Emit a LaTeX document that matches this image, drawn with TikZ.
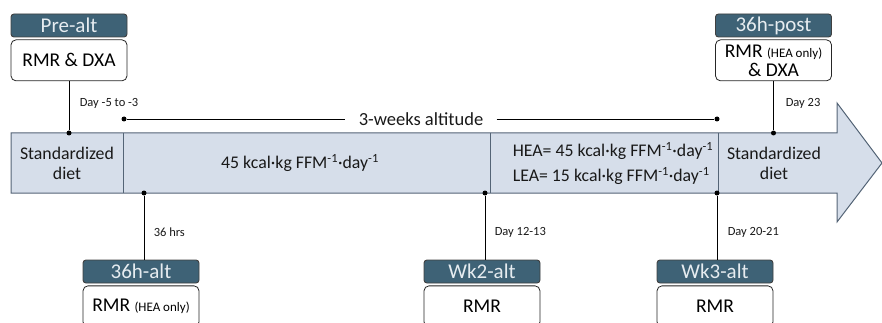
\documentclass[tikz,border=0pt]{standalone}
\usepackage{fontspec}
\setmainfont{Carlito}
\usetikzlibrary{positioning}
\definecolor{headblue}{RGB}{62,98,118}
\definecolor{headtext}{RGB}{230,236,240}
\definecolor{bandfill}{RGB}{214,222,234}
\definecolor{bandline}{RGB}{84,100,118}
\tikzset{
    head/.style={draw=black!75, fill=headblue, text=headtext, rounded corners=3pt,
        minimum width=116pt, minimum height=23pt, inner sep=0pt, font=\fontsize{21}{22}\selectfont},
    testbox/.style={draw=black!85, fill=white, rounded corners=5pt, line width=0.8pt,
        minimum width=116pt, minimum height=41pt, inner sep=0pt, align=center,
        font=\fontsize{19.5}{19}\selectfont},
    daylabel/.style={anchor=west, text=black!90, font=\fontsize{12.5}{15}\selectfont},
    dot/.style={circle, fill=black, inner sep=0pt, minimum size=5pt},
    bandtext/.style={align=center, text=black!90, font=\fontsize{17.8}{20}\selectfont},
}
\newcommand{\kcal}{kcal·kg FFM\textsuperscript{-1}·day\textsuperscript{-1}}
\begin{document}
\begin{tikzpicture}[x=1pt, y=1pt, line width=0.9pt]
    \useasboundingbox (0,0) rectangle (882,-323);
    \clip (0,0) rectangle (882,-323);
    % band arrow
    \draw[fill=bandfill, draw=bandline, line width=1pt]
        (11,-133) -- (837,-133) -- (837,-103) -- (882,-163)
        -- (837,-222) -- (837,-193) -- (11,-193) -- cycle;
    \draw[bandline, line width=1pt] (123,-133) -- (123,-193)
        (490,-133) -- (490,-193)
        (718,-133) -- (718,-193);
    \node[bandtext] (stdpre) at (67,-163) {Standardized\\diet};
    \node[bandtext] (kcalalt) at (300,-163) {45 \kcal};
    \node[bandtext, anchor=west] (hea) at (509,-151) {HEA= 45 \kcal};
    \node[bandtext, anchor=west] (lea) at (509,-176) {LEA= 15 \kcal};
    \node[bandtext] (stdpost) at (774,-163) {Standardized\\diet};
    % 3-weeks altitude
    \node[dot] (altstart) at (124,-119) {};
    \node[dot] (altend) at (717,-119) {};
    \node[bandtext, inner xsep=13pt, font=\fontsize{18.5}{20}\selectfont] (altlabel)
        at (421,-119) {3-weeks altitude};
    \draw (altstart) -- (altlabel.west);
    \draw (altlabel.east) -- (altend);
    % top measurements
    \node[head] (prealt) at (69,-25.5) {Pre-alt};
    \node[testbox, below=2pt of prealt] (premeas) {RMR \& DXA};
    \node[dot] (predot) at (69,-133) {};
    \draw (premeas) -- (predot);
    \node[daylabel] (preday) at (76,-103) {Day -5 to -3};
    \node[head] (postalt) at (773.5,-25.5) {36h-post};
    \node[testbox, below=2pt of postalt] (postmeas)
        {RMR {\fontsize{13}{14}\selectfont(HEA only)}\\\& DXA};
    \node[dot] (postdot) at (773.5,-133) {};
    \draw (postmeas) -- (postdot);
    \node[daylabel] (postday) at (782,-103) {Day 23};
    % bottom measurements
    \node[head] (alt36) at (141,-271.5) {36h-alt};
    \node[testbox, below=2pt of alt36] (alt36meas)
        {RMR {\fontsize{13}{14}\selectfont(HEA only)}};
    \node[dot] (alt36dot) at (144,-193) {};
    \draw (alt36dot) -- (alt36dot |- alt36.north);
    \node[daylabel] (alt36day) at (150,-232) {36 hrs};
    \node[head] (wk2) at (482,-271.5) {Wk2-alt};
    \node[testbox, below=2pt of wk2] (wk2meas) {RMR};
    \node[dot] (wk2dot) at (485,-193) {};
    \draw (wk2dot) -- (wk2dot |- wk2.north);
    \node[daylabel] (wk2day) at (491,-232) {Day 12-13};
    \node[head] (wk3) at (715,-271.5) {Wk3-alt};
    \node[testbox, below=2pt of wk3] (wk3meas) {RMR};
    \node[dot] (wk3dot) at (717,-193) {};
    \draw (wk3dot) -- (wk3dot |- wk3.north);
    \node[daylabel] (wk3day) at (724,-232) {Day 20-21};
\end{tikzpicture}
\end{document}
